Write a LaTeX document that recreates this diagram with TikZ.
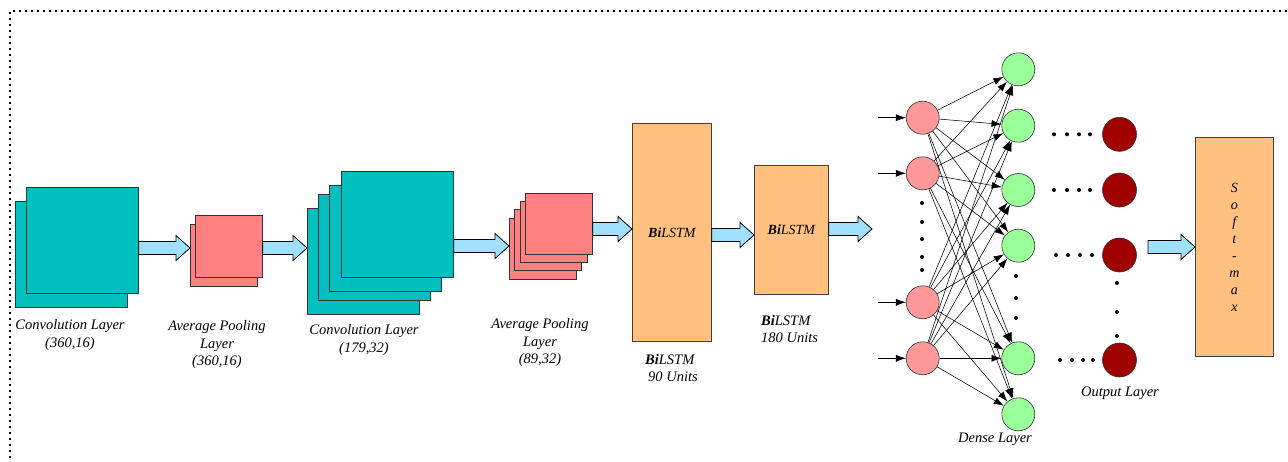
\documentclass[tikz,border=0pt]{standalone}
\usepackage{fontspec}
\setmainfont{Liberation Serif}
\usetikzlibrary{arrows.meta,calc}
\definecolor{teal1}{RGB}{0,191,191}
\definecolor{salmon1}{RGB}{255,128,128}
\definecolor{orange1}{RGB}{255,192,128}
\definecolor{blue1}{RGB}{160,224,255}
\definecolor{pink1}{RGB}{255,153,153}
\definecolor{green1}{RGB}{153,255,153}
\definecolor{dred}{RGB}{160,0,0}
\newcommand\blockarrow[3]{%
  \draw[barrow] let \p1=(#1), \p2=(#2), \p3=(0,#3) in
    (\x1,\y3+6.5pt) -- (\x2-14pt,\y3+6.5pt) -- (\x2-14pt,\y3+12.5pt) -- (\x2,\y3)
    -- (\x2-14pt,\y3-12.5pt) -- (\x2-14pt,\y3-6.5pt) -- (\x1,\y3-6.5pt) -- cycle;}
\begin{document}
\begin{tikzpicture}[x=1pt,y=-1pt,
  box/.style={draw=black!80, line width=0.8pt, inner sep=0, anchor=north west},
  conv/.style={box, fill=teal1, minimum width=112, minimum height=106},
  pool/.style={box, fill=salmon1, minimum width=67, minimum height=62},
  lstm/.style={box, fill=orange1, draw=black!75, font=\fontsize{14}{17}\selectfont\itshape},
  neuron/.style={circle, draw=black!80, line width=0.6pt, minimum size=33, inner sep=0},
  lbl/.style={font=\fontsize{14.5}{17.5}\selectfont\itshape, align=center, inner sep=0},
  edge/.style={-{Latex[length=10pt,width=7pt]}, line width=0.55pt},
  barrow/.style={fill=blue1, draw=black, line width=0.8pt},
  frame/.style={line width=1.8pt, dash pattern=on 1.6pt off 4.4pt},
  dot/.style={fill=black}]
\useasboundingbox (0,0) rectangle (1288,461);
\draw[frame] (10,470) -- (10,11) -- (1295,11);

% convolution 1
\node[conv] (c1b) at (15,201) {};
\node[conv] (c1f) at (26,187) {};
% pooling 1
\node[pool] (p1b) at (190,224) {};
\node[pool] (p1f) at (195,215) {};
% convolution 2
\node[conv] (c2a) at (307,208) {};
\node[conv] (c2b) at (318,194) {};
\node[conv] (c2c) at (329,185) {};
\node[conv] (c2d) at (341,171) {};
% pooling 2
\node[pool, minimum height=61] (q1) at (509,218) {};
\node[pool, minimum height=61] (q2) at (514,209) {};
\node[pool, minimum height=61] (q3) at (520,201) {};
\node[pool, minimum height=61] (q4) at (525,193) {};
% BiLSTM
\node[lstm, minimum width=79, minimum height=218] (l1) at (632,123) {\textbf{Bi}LSTM};
\node[lstm, minimum width=74, minimum height=129] (l2) at (754,165) {\textbf{Bi}LSTM};
% softmax
\node[lstm, minimum width=78, minimum height=219, align=center] (sm) at (1195,137) {S\\o\\f\\t\\-\\m\\a\\x};

% block arrows
\coordinate (a6end) at (872,229);
\coordinate (a7start) at (1148,247);
\blockarrow{c1f.east}{p1b.west}{248}
\blockarrow{p1f.east}{c2a.west}{248}
\blockarrow{c2d.east}{q1.west}{246}
\blockarrow{q4.east}{l1.west}{229}
\blockarrow{l1.east}{l2.west}{235}
\blockarrow{l2.east}{a6end}{229}
\blockarrow{a7start}{sm.west}{247}

% dense layer inputs
\foreach \i/\y in {1/117.7,2/173.3,3/302.3,4/358.3}{
  \node[neuron, fill=pink1] (r\i) at (922.7,\y) {};
  \coordinate (in\i) at (878,\y);
  \draw[edge] (in\i) -- (r\i);
}
\foreach \i/\y in {1/69.3,2/125.7,3/190,4/245.7,5/358.3,6/414.3}{
  \node[neuron, fill=green1] (g\i) at (1018.3,\y) {};
}
\foreach \i/\y in {1/134.3,2/190,3/255,4/360}{
  \node[neuron, fill=dred, minimum size=34] (o\i) at (1119.5,\y) {};
}
\foreach \r in {1,...,4}{
  \foreach \g in {1,...,6}{
    \draw[edge] (r\r) -- (g\g);
  }
}

% dots
\foreach \y in {203,222,239,257,270} \fill[dot] (922,\y) circle (2);
\foreach \y in {276,298,318} \fill[dot] (1016,\y) circle (2);
\foreach \y in {283,312,336} \fill[dot] (1117,\y) circle (2);
\foreach \y in {134.3,190} {\foreach \x in {1054,1067,1079,1090} \fill[dot] (\x,\y) circle (2);}
\foreach \x in {1056,1068,1080,1092} \fill[dot] (\x,255) circle (2);
\foreach \x in {1060,1072,1083,1093} \fill[dot] (\x,360) circle (2);

% labels
\node[lbl] (lc1) at (70,335) {Convolution Layer\\(360,16)};
\node[lbl] (lp1) at (217,345) {Average Pooling\\Layer\\(360,16)};
\node[lbl] (lc2) at (364,340) {Convolution Layer\\(179,32)};
\node[lbl] (lp2) at (540,343) {Average Pooling\\Layer\\(89,32)};
\node[lbl, align=left, anchor=west] (ll1) at (645,368) {\textbf{Bi}LSTM\\\hspace*{3pt}90 Units};
\node[lbl, align=left, anchor=west] (ll2) at (761,329) {\textbf{Bi}LSTM\\180 Units};
\node[lbl] (ld) at (995,439) {Dense Layer};
\node[lbl] (lo) at (1120,393) {Output Layer};
\end{tikzpicture}
\end{document}
